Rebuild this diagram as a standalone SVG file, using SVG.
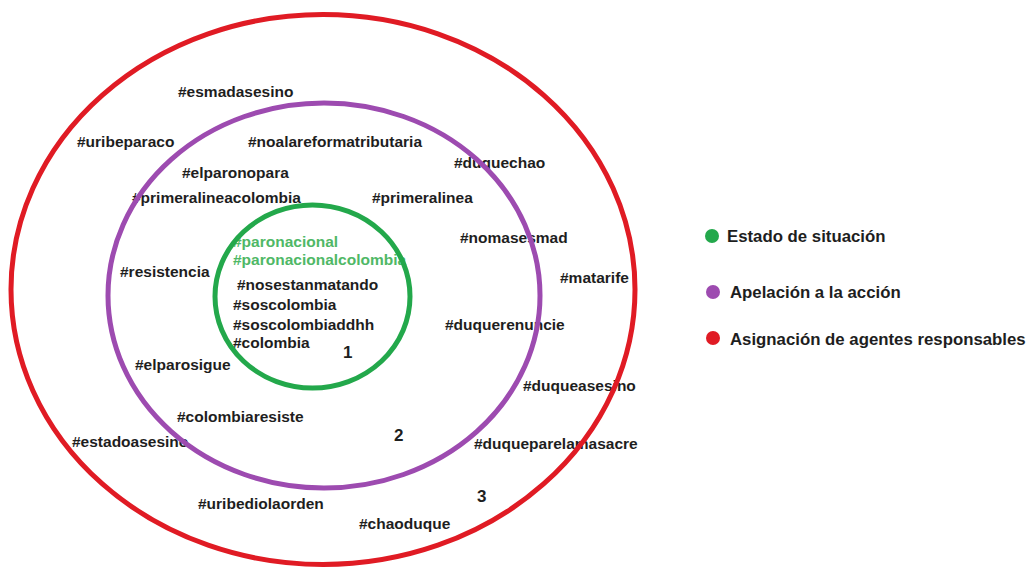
<svg xmlns="http://www.w3.org/2000/svg" width="1036" height="568" viewBox="0 0 1036 568">
<style>
text{font-family:"Liberation Sans",Arial,sans-serif;font-weight:bold;fill:#1e1e1e}
.t{font-size:15.5px}
.g{fill:#4fb866}
.n{font-size:17px}
.lg{font-size:16.8px}
.ring{fill:none;stroke-width:5}
</style>
<rect width="1036" height="568" fill="#fff"/>
<g id="tags">
<text class="t" x="178" y="97">#esmadasesino</text>
<text class="t" x="77" y="147">#uribeparaco</text>
<text class="t" x="248" y="147">#noalareformatributaria</text>
<text class="t" x="454" y="168">#duquechao</text>
<text class="t" x="182" y="178">#elparonopara</text>
<text class="t" x="132" y="203">#primeralineacolombia</text>
<text class="t" x="372" y="203">#primeralinea</text>
<text class="t" x="460" y="243">#nomasesmad</text>
<text class="t" x="120" y="277">#resistencia</text>
<text class="t" x="560" y="283">#matarife</text>
<text class="t" x="445" y="330">#duquerenuncie</text>
<text class="t" x="135" y="370">#elparosigue</text>
<text class="t" x="523" y="391">#duqueasesino</text>
<text class="t" x="177" y="422">#colombiaresiste</text>
<text class="t" x="72" y="447">#estadoasesino</text>
<text class="t" x="474" y="449">#duqueparelamasacre</text>
<text class="t" x="198" y="509">#uribediolaorden</text>
<text class="t" x="359" y="529">#chaoduque</text>
<text class="t g" x="233" y="247">#paronacional</text>
<text class="t g" x="233" y="265">#paronacionalcolombia</text>
<text class="t" x="237" y="290">#nosestanmatando</text>
<text class="t" x="233" y="310">#soscolombia</text>
<text class="t" x="233" y="330">#soscolombiaddhh</text>
<text class="t" x="233" y="348">#colombia</text>
<text class="n" x="343" y="358">1</text>
<text class="n" x="394" y="441">2</text>
<text class="n" x="477" y="502">3</text>
</g>
<g id="ring-3"><ellipse class="ring" cx="323" cy="289.5" rx="312" ry="275" stroke="#e01b24"/></g>
<g id="ring-2"><ellipse class="ring" cx="324" cy="295.5" rx="216" ry="192.5" stroke="#9d4bb0"/></g>
<g id="ring-1"><ellipse class="ring" cx="312.5" cy="296.5" rx="97.5" ry="91.5" stroke="#23a84b"/></g>
<g id="legend-1"><circle cx="712" cy="236" r="7" fill="#23a84b"/><text class="lg" x="727" y="242">Estado de situación</text></g>
<g id="legend-2"><circle cx="713" cy="292" r="7" fill="#9d4bb0"/><text class="lg" x="730" y="298">Apelación a la acción</text></g>
<g id="legend-3"><circle cx="713" cy="338" r="7" fill="#e01b24"/><text class="lg" x="730" y="345">Asignación de agentes responsables</text></g>
</svg>
